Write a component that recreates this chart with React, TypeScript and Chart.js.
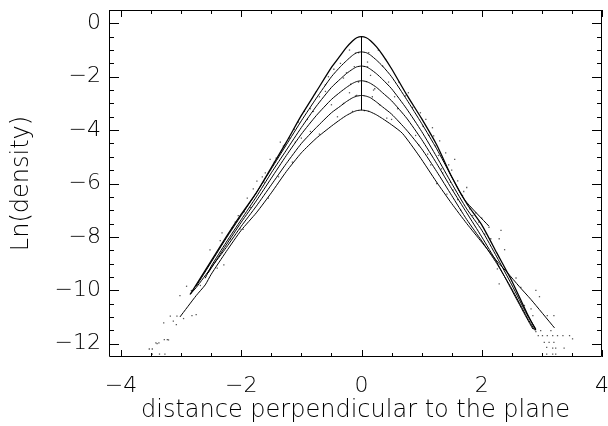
import React, { useEffect, useRef } from "react";
import { Chart, registerables } from "chart.js";

Chart.register(...registerables);

// ---- axis ticks ----
const X_TICKS = [-4, -2, 0, 2, 4];
const X_MINOR = [-4, -3.5, -3, -2.5, -2, -1.5, -1, -0.5, 0, 0.5, 1, 1.5, 2, 2.5, 3, 3.5, 4];
const Y_TICKS = [0, -2, -4, -6, -8, -10, -12];
const Y_MINOR = [0.5, 0, -0.5, -1, -1.5, -2, -2.5, -3, -3.5, -4, -4.5, -5, -5.5, -6, -6.5, -7, -7.5, -8, -8.5, -9, -9.5, -10, -10.5, -11, -11.5, -12];
const X_LABEL = "distance perpendicular to the plane";
const Y_LABEL = "Ln(density)";

// ---- profile curves (x, ln density) ----
const CURVE_A_X = [-2.85, -2.75, -2.5, -2.25, -2.0, -1.75, -1.5, -1.25, -1.0, -0.75, -0.5, -0.35, -0.25, -0.15, -0.08, 0, 0.08, 0.15, 0.25, 0.35, 0.5, 0.75, 1.0, 1.25, 1.5, 1.75, 2.0, 2.25, 2.5, 2.75, 2.9];
const CURVE_A_Y = [-10.15, -9.8, -8.9, -8.0, -7.15, -6.35, -5.4, -4.45, -3.45, -2.55, -1.65, -1.2, -0.9, -0.66, -0.54, -0.5, -0.54, -0.65, -0.88, -1.18, -1.7, -2.67, -3.57, -4.55, -5.75, -6.75, -7.55, -8.6, -9.65, -10.85, -11.5];

const CURVE_B_X = [-2.75, -2.5, -2.25, -2.0, -1.75, -1.5, -1.25, -1.0, -0.75, -0.5, -0.35, -0.25, -0.15, -0.08, 0, 0.08, 0.15, 0.25, 0.35, 0.5, 0.75, 1.0, 1.25, 1.5, 1.71, 2.12];
const CURVE_B_Y = [-9.85, -8.95, -8.05, -7.2, -6.35, -5.45, -4.55, -3.65, -2.8, -2.0, -1.62, -1.4, -1.2, -1.1, -1.07, -1.1, -1.19, -1.38, -1.6, -2.0, -2.85, -3.75, -4.7, -5.75, -6.6, -7.6];

const CURVE_C_X = [-2.6, -2.5, -2.25, -2.0, -1.75, -1.5, -1.25, -1.0, -0.75, -0.5, -0.35, -0.25, -0.15, -0.08, 0, 0.08, 0.15, 0.25, 0.35, 0.5, 0.75, 1.0, 1.25, 1.5, 1.75, 2.0, 2.25, 2.5, 2.75, 2.9];
const CURVE_C_Y = [-9.55, -9.1, -8.2, -7.35, -6.5, -5.6, -4.75, -3.9, -3.1, -2.4, -2.08, -1.88, -1.72, -1.63, -1.6, -1.63, -1.72, -1.89, -2.1, -2.45, -3.2, -4.05, -5.0, -6.0, -6.95, -7.75, -8.75, -9.8, -10.9, -11.45];

const CURVE_D_X = [-2.55, -2.25, -2.0, -1.75, -1.5, -1.25, -1.0, -0.75, -0.5, -0.35, -0.25, -0.15, -0.08, 0, 0.08, 0.15, 0.25, 0.35, 0.5, 0.75, 1.0, 1.25, 1.5, 1.75, 2.0, 2.25, 2.5, 2.75, 2.85];
const CURVE_D_Y = [-9.35, -8.3, -7.45, -6.65, -5.8, -4.95, -4.15, -3.45, -2.85, -2.57, -2.4, -2.25, -2.18, -2.15, -2.18, -2.25, -2.4, -2.6, -2.9, -3.55, -4.35, -5.25, -6.2, -7.1, -8.0, -8.95, -10.0, -11.05, -11.45];

const CURVE_E_X = [-2.85, -2.75, -2.5, -2.25, -2.0, -1.75, -1.5, -1.25, -1.0, -0.75, -0.5, -0.35, -0.25, -0.15, -0.08, 0, 0.08, 0.15, 0.25, 0.35, 0.5, 0.75, 1.0, 1.25, 1.5, 1.75, 2.0, 2.25, 2.5, 2.75, 2.88];
const CURVE_E_Y = [-10.15, -9.9, -9.15, -8.4, -7.6, -6.85, -6.05, -5.25, -4.5, -3.9, -3.35, -3.1, -2.93, -2.79, -2.73, -2.7, -2.73, -2.79, -2.95, -3.13, -3.4, -4.0, -4.7, -5.55, -6.45, -7.35, -8.15, -9.0, -9.95, -11.0, -11.5];

const CURVE_F_X = [-3.02, -2.75, -2.6, -2.5, -2.25, -2.0, -1.75, -1.5, -1.25, -1.0, -0.75, -0.5, -0.35, -0.25, -0.15, -0.08, 0, 0.08, 0.15, 0.25, 0.35, 0.5, 0.68, 0.96, 1.25, 1.5, 1.75, 2.0, 2.25, 2.43, 2.62, 2.82, 3.21];
const CURVE_F_Y = [-11.0, -10.2, -9.8, -9.4, -8.55, -7.75, -7.1, -6.35, -5.55, -4.85, -4.3, -3.85, -3.6, -3.45, -3.33, -3.27, -3.25, -3.27, -3.32, -3.43, -3.57, -3.8, -4.12, -4.97, -5.95, -6.75, -7.5, -8.2, -8.9, -9.35, -9.85, -10.35, -11.41];

const CENTER_X = [0, 0];
const CENTER_Y = [-0.5, -3.25];

// ---- raw measurements (scattered dots) ----
const DOTS_X = [
  -3.53, -3.48, -3.42, -3.37, -3.28, -3.23, -3.48, -3.36, -3.27, -3.29, -3.18, -3.13, -3.08, -3.07, -2.96, -3.4, -3.21, -2.82, -2.75, -3.02, -2.91, -2.83, -2.68, -2.52, -2.4, -2.35, -2.32, -2.29, -2.18, -2.02, -1.97,
  2.9, 2.98, 2.94, 3.01, 3.09, 3.18, 3.26, 3.35, 3.46, 3.51, 3.04, 3.12, 3.2, 3.08, 3.18, 3.23, 3.37, 3.08, 3.18, 3.23, 3.15, 3.09, 3.2, 2.9, 2.96, 2.65, 2.57, 2.38, 2.29, 2.32, 2.12, 2.15, 2.26, 2.29, 2.82, 2.85, 2.71,
  -1.12, -1.52, -1.74, -0.46, -1.3, -1.35, -1.2, -1.6, -1.65, -1.9, -1.85, -2.05, -2.1, -0.9, -0.95, -0.7, -0.6, -0.35, -0.2, -0.3, -0.6, -0.8, -1.0, -0.4, -0.3, -0.2, -0.15, -0.1, -0.05, -0.12, -0.05, -0.7, -1.15, -1.45, -1.55,
  0.98, 1.07, 1.18, 1.2, 1.23, 0.73, 0.78, 1.3, 1.4, 1.45, 1.5, 1.55, 1.6, 1.7, 1.75, 1.8, 1.9, 2.0, 1.35, 1.1, 0.9, 0.6, 0.5, 0.3, 0.2, 0.15, 0.1, 0.35, 0.45, 0.05, 0.08, 0.12, 1.25, 1.6, 1.65,
  -1.05, -1.28, -1.42, -1.62, -1.8, -1.95, -2.15, -0.85, -0.55, -0.25, -0.5, -0.85, -1.1, -1.38, -0.1, -0.18, 0.1, 0.18, 0.12, -0.08,
  0.62, 0.85, 1.02, 1.12, 1.28, 1.33, 1.48, 1.52, 1.68, 1.85, 1.95, 2.05, 0.4, 0.55, 0.95, 1.15, 1.42, 0.28, 0.22, 0.42
];
const DOTS_Y = [
  -12.2, -12.2, -11.97, -11.97, -11.85, -11.85, -12.39, -12.39, -12.39, -11.22, -10.97, -11.16, -11.29, -10.97, -11.06, -12.0, -11.86, -10.95, -10.91, -10.2, -9.85, -10.01, -9.82, -8.49, -9.17, -8.14, -7.85, -9.05, -8.07, -7.7, -7.72,
  -11.55, -11.51, -11.7, -11.7, -11.7, -11.7, -11.7, -11.7, -11.7, -11.82, -11.95, -11.95, -11.95, -12.14, -12.17, -12.17, -12.17, -12.39, -12.39, -12.39, -11.51, -10.95, -10.95, -10.0, -10.24, -9.89, -9.54, -8.48, -8.07, -7.76, -7.64, -8.07, -9.2, -9.76, -10.7, -10.95, -10.57,
  -3.97, -5.1, -5.91, -1.72, -4.6, -4.45, -4.3, -5.6, -5.75, -6.55, -6.9, -7.2, -7.45, -3.6, -3.3, -2.75, -2.3, -1.5, -1.0, -2.05, -2.55, -3.3, -4.3, -3.5, -3.0, -2.6, -3.3, -2.72, -2.2, -1.62, -1.1, -4.15, -5.2, -5.2, -6.55,
  -3.35, -3.6, -3.91, -4.22, -4.6, -2.72, -2.6, -4.4, -4.85, -5.3, -5.5, -5.1, -5.9, -6.3, -6.15, -6.95, -7.1, -7.3, -5.6, -4.9, -4.2, -3.2, -3.6, -3.05, -2.5, -1.95, -1.45, -1.6, -2.2, -3.27, -2.18, -1.1, -6.0, -6.6, -7.0,
  -3.7, -4.55, -5.05, -5.95, -6.2, -7.05, -7.65, -3.2, -2.0, -1.85, -3.05, -4.05, -4.45, -5.75, -1.12, -2.28, -1.63, -2.75, -3.3, -2.7,
  -2.2, -3.15, -3.85, -4.2, -4.95, -5.45, -5.95, -6.25, -6.45, -7.2, -7.45, -7.9, -1.35, -2.75, -4.55, -5.3, -6.4, -1.0, -2.45, -3.55
];

const FONT = "'DejaVu Sans', sans-serif";

const pairs = (xs: number[], ys: number[]) => xs.map((x, i) => ({ x, y: ys[i] }));

const frameTicks = {
  id: "frameTicks",
  afterDraw(chart: any) {
    const { ctx, chartArea, scales } = chart;
    const { left, right, top, bottom } = chartArea;
    const xs = scales.x;
    const ys = scales.y;
    ctx.save();
    ctx.strokeStyle = "#000";
    ctx.lineWidth = 1;
    ctx.beginPath();
    ctx.rect(left + 0.5, top + 0.5, right - left - 1, bottom - top - 1);
    ctx.stroke();
    ctx.beginPath();
    X_MINOR.forEach((v) => {
      const px = Math.round(xs.getPixelForValue(v)) + 0.5;
      const len = X_TICKS.includes(v) ? 7 : 4;
      ctx.moveTo(px, bottom);
      ctx.lineTo(px, bottom - len);
      ctx.moveTo(px, top);
      ctx.lineTo(px, top + len);
    });
    Y_MINOR.forEach((v) => {
      const py = Math.round(ys.getPixelForValue(v)) + 0.5;
      const len = Y_TICKS.includes(v) ? 10 : 5;
      ctx.moveTo(left, py);
      ctx.lineTo(left + len, py);
      ctx.moveTo(right, py);
      ctx.lineTo(right - len, py);
    });
    ctx.stroke();
    ctx.restore();
  },
};

const fmt = (v: number) => (v < 0 ? "\u2212" + Math.abs(v) : String(v));

export default function App() {
  const ref = useRef<HTMLCanvasElement | null>(null);
  useEffect(() => {
    if (!ref.current) return;
    const line = (xs: number[], ys: number[], w = 1) => ({
      type: "line" as const,
      data: pairs(xs, ys),
      borderColor: "#000",
      borderWidth: w,
      pointRadius: 0,
      showLine: true,
      fill: false,
      tension: 0.2,
    });
    const chart = new Chart(ref.current, {
      type: "scatter",
      data: {
        datasets: [
          line(CURVE_A_X, CURVE_A_Y, 1.3),
          line(CURVE_B_X, CURVE_B_Y),
          line(CURVE_C_X, CURVE_C_Y),
          line(CURVE_D_X, CURVE_D_Y),
          line(CURVE_E_X, CURVE_E_Y),
          line(CURVE_F_X, CURVE_F_Y),
          { ...line(CENTER_X, CENTER_Y), tension: 0 },
          {
            type: "scatter" as const,
            data: pairs(DOTS_X, DOTS_Y),
            pointStyle: "rect",
            pointRadius: 0.9,
            backgroundColor: "#555",
            borderWidth: 0,
          },
        ] as any,
      },
      options: {
        responsive: false,
        devicePixelRatio: 1,
        animation: false,
        layout: { padding: { top: 10, right: 6, left: 0, bottom: 0 } },
        plugins: { legend: { display: false }, tooltip: { enabled: false } },
        scales: {
          x: {
            type: "linear",
            min: -4.2,
            max: 4,
            grid: { display: false, drawTicks: false },
            border: { display: false },
            afterBuildTicks: (s: any) => {
              s.ticks = X_TICKS.map((value) => ({ value }));
            },
            afterFit: (s: any) => {
              s.height = 69;
              s.paddingLeft = 0;
              s.paddingRight = 0;
              s.paddingTop = 0;
              s.paddingBottom = 0;
            },
            ticks: {
              callback: (v: any) => fmt(Number(v)),
              font: { family: FONT, size: 22, weight: "300" },
              color: "#000",
              padding: 16,
              maxRotation: 0,
              autoSkip: false,
            },
            title: {
              display: true,
              text: X_LABEL,
              font: { family: FONT, size: 24, weight: "300" },
              color: "#000",
              padding: { top: 0, bottom: 1 },
            },
          },
          y: {
            type: "linear",
            min: -12.5,
            max: 0.5,
            grid: { display: false, drawTicks: false },
            border: { display: false },
            afterBuildTicks: (s: any) => {
              s.ticks = Y_TICKS.map((value) => ({ value }));
            },
            afterFit: (s: any) => {
              s.width = 109;
              s.paddingLeft = 0;
              s.paddingRight = 0;
              s.paddingTop = 0;
              s.paddingBottom = 0;
            },
            ticks: {
              callback: (v: any) => fmt(Number(v)),
              font: { family: FONT, size: 22, weight: "300" },
              color: "#000",
              padding: 8,
              autoSkip: false,
            },
            title: {
              display: true,
              text: Y_LABEL,
              font: { family: FONT, size: 24, weight: "300" },
              color: "#000",
              padding: { top: 7, bottom: 0 },
            },
          },
        },
      } as any,
      plugins: [frameTicks],
    });
    return () => chart.destroy();
  }, []);
  return (
    <div style={{ position: "fixed", left: 0, top: 0, width: 608, height: 426, background: "#fff" }}>
      <canvas ref={ref} width={608} height={426} style={{ display: "block" }} />
    </div>
  );
}
